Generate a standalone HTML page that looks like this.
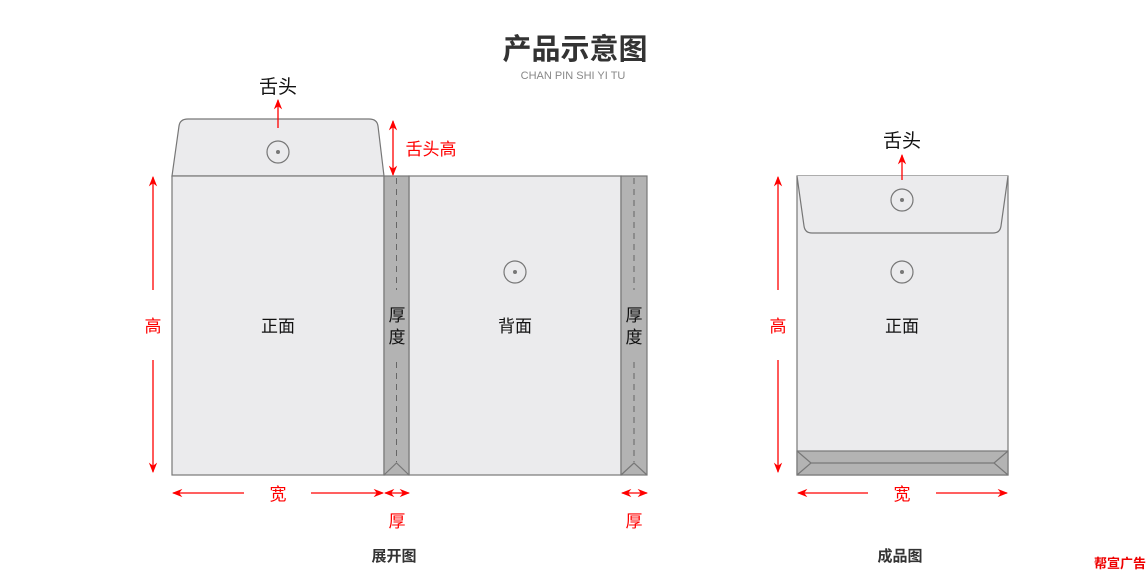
<!DOCTYPE html>
<html><head><meta charset="utf-8"><style>
body{margin:0;background:#fff;}
svg{display:block;font-family:"Liberation Sans","Noto Sans CJK SC",sans-serif;}
</style></head><body>
<svg width="1146" height="570" viewBox="0 0 1146 570">
<defs>
<marker id="a" viewBox="0 0 10 10" refX="9" refY="5" markerWidth="8" markerHeight="8" orient="auto-start-reverse"><path d="M0,1 L10,5 L0,9 L3,5Z" fill="#f00"/></marker>
</defs>
<text x="575" y="59" text-anchor="middle" font-size="29" font-weight="bold" fill="#333">产品示意图</text>
<text x="573" y="79" text-anchor="middle" font-size="11" fill="#888">CHAN PIN SHI YI TU</text>
<g stroke="#777" stroke-width="1.2" fill="#ebebed">
<path d="M172,176 L179,126 Q180,119 188,119 L369,119 Q377,119 378,126 L384,176 Z"/>
<rect x="172" y="176" width="212" height="299"/>
<rect x="409" y="176" width="212" height="299"/>
<rect x="384" y="176" width="25" height="299" fill="#b3b3b3"/>
<rect x="621" y="176" width="26" height="299" fill="#b3b3b3"/>
<path d="M384,475 L396.5,463 L409,475 M621,475 L634,463 L647,475" fill="none"/>
<rect x="797" y="176" width="211" height="299"/>
<path d="M797,176 L804,226 Q805,233 812,233 L993,233 Q1000,233 1001,226 L1008,176" />
<rect x="797" y="451" width="211" height="24" fill="#b3b3b3"/>
<path d="M811,463 L994,463 M797,451 L811,463 L797,475 M1008,451 L994,463 L1008,475" fill="none"/>
<circle cx="278" cy="152" r="11" fill="none"/>
<circle cx="515" cy="272" r="11" fill="none"/>
<circle cx="902" cy="200" r="11" fill="none"/>
<circle cx="902" cy="272" r="11" fill="none"/>
</g>
<g fill="#777"><circle cx="278" cy="152" r="2"/><circle cx="515" cy="272" r="2"/><circle cx="902" cy="200" r="2"/><circle cx="902" cy="272" r="2"/></g>
<g stroke="#666" stroke-dasharray="6,5" stroke-width="1">
<path d="M396.5,178 V290 M396.5,362 V462 M634,178 V290 M634,362 V462"/>
</g>
<g font-size="17" fill="#111" text-anchor="middle">
<text x="278" y="332">正面</text>
<text x="515" y="332">背面</text>
<text x="902" y="332">正面</text>
<text x="397" y="321">厚</text><text x="397" y="343">度</text>
<text x="634" y="321">厚</text><text x="634" y="343">度</text>
<text x="278" y="93" font-size="19">舌头</text>
<text x="902" y="147" font-size="19">舌头</text>
</g>
<g stroke="#f00" stroke-width="1.3" fill="none" marker-end="url(#a)">
<path d="M278,128 V100"/>
<path d="M902,180 V155"/>
<path d="M393,121 V175" marker-start="url(#a)"/>
<path d="M153,290 V177"/><path d="M153,360 V472"/>
<path d="M778,290 V177"/><path d="M778,360 V472"/>
<path d="M244,493 H173"/><path d="M311,493 H383"/>
<path d="M385,493 H409" marker-start="url(#a)"/>
<path d="M622,493 H647" marker-start="url(#a)"/>
<path d="M868,493 H798"/><path d="M936,493 H1007"/>
</g>
<g fill="#f00" font-size="17" text-anchor="middle">
<text x="431" y="155">舌头高</text>
<text x="153" y="332">高</text>
<text x="778" y="332">高</text>
<text x="278" y="500">宽</text>
<text x="902" y="500">宽</text>
<text x="397" y="527">厚</text>
<text x="634" y="527">厚</text>
</g>
<text x="394" y="561" text-anchor="middle" font-size="15" font-weight="bold" fill="#333">展开图</text>
<text x="900" y="561" text-anchor="middle" font-size="15" font-weight="bold" fill="#333">成品图</text>
<text x="1120" y="568" text-anchor="middle" font-size="13" font-weight="bold" fill="#e00">帮宣广告</text>
</svg>
</body></html>
